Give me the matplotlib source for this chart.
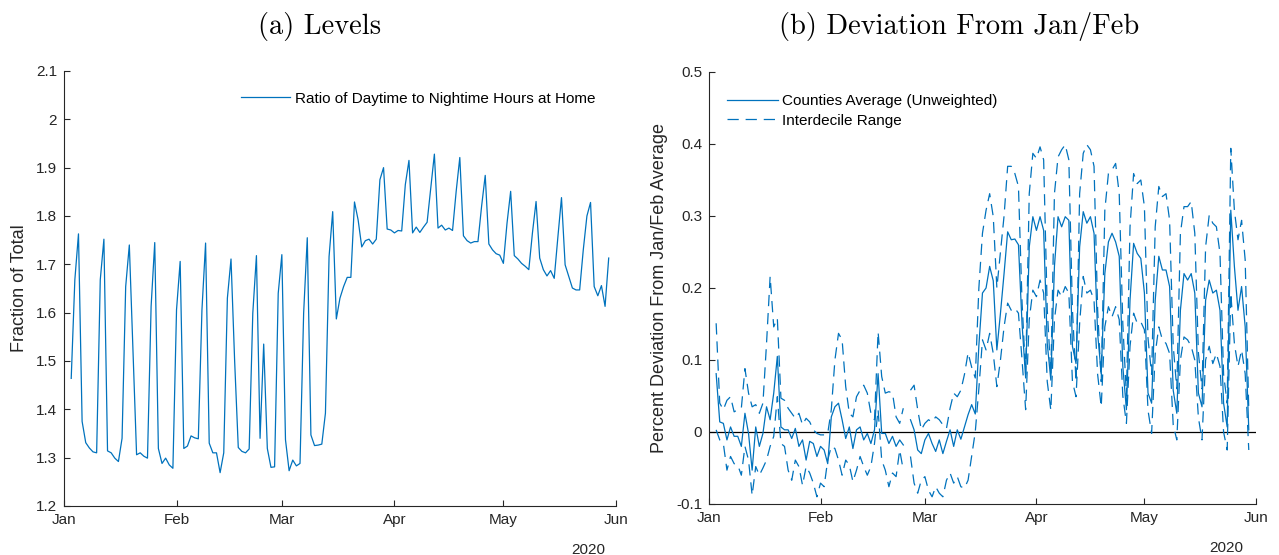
import numpy as np
import pandas as pd
import matplotlib.pyplot as plt
import matplotlib.dates as mdates

plt.rcParams['font.family'] = ['Liberation Sans', 'DejaVu Sans']

blue = '#0072BD'
axcol = '#262626'

ratio = [1.464, 1.668, 1.763, 1.375, 1.331, 1.320, 1.312, 1.310, 1.668, 1.752,
         1.314, 1.310, 1.299, 1.292, 1.340, 1.654, 1.740, 1.520, 1.306, 1.310,
         1.303, 1.299, 1.613, 1.745, 1.319, 1.288, 1.299, 1.285, 1.278, 1.606,
         1.706, 1.319, 1.324, 1.345, 1.341, 1.339, 1.606, 1.744, 1.330, 1.310,
         1.310, 1.269, 1.310, 1.630, 1.711, 1.500, 1.321, 1.313, 1.310, 1.318,
         1.599, 1.718, 1.340, 1.535, 1.319, 1.280, 1.281, 1.640, 1.720, 1.337,
         1.273, 1.295, 1.283, 1.288, 1.599, 1.755, 1.347, 1.325, 1.326, 1.328,
         1.392, 1.716, 1.809, 1.587, 1.630, 1.654, 1.673, 1.673, 1.829, 1.792,
         1.736, 1.749, 1.752, 1.742, 1.752, 1.875, 1.900, 1.773, 1.771, 1.765,
         1.770, 1.769, 1.865, 1.915, 1.765, 1.777, 1.766, 1.777, 1.787, 1.858,
         1.928, 1.775, 1.781, 1.771, 1.775, 1.770, 1.851, 1.921, 1.759, 1.749,
         1.744, 1.747, 1.747, 1.820, 1.884, 1.742, 1.730, 1.722, 1.719, 1.702,
         1.785, 1.851, 1.718, 1.711, 1.702, 1.696, 1.689, 1.765, 1.830, 1.713,
         1.689, 1.676, 1.687, 1.671, 1.756, 1.838, 1.699, 1.675, 1.651, 1.647,
         1.647, 1.730, 1.800, 1.828, 1.654, 1.635, 1.656, 1.613, 1.713]

nan = np.nan
avg = [0.081, 0.014, 0.012, -0.011, 0.007, -0.006, -0.006, -0.020, 0.026, -0.002,
       -0.053, 0.007, -0.020, -0.002, 0.035, 0.017, 0.054, 0.105, 0.007, 0.003,
       0.003, -0.009, 0.005, -0.020, -0.011, -0.039, -0.013, -0.016, -0.034, -0.020,
       -0.025, -0.044, 0.021, 0.035, 0.040, 0.017, -0.009, 0.007, -0.023, 0.003,
       0.007, -0.011, -0.002, -0.016, 0.003, 0.081, -0.002, -0.002, -0.016, -0.006,
       -0.020, -0.011, -0.018, nan, 0.017, 0.003, -0.025, -0.030, -0.011, -0.002,
       -0.016, -0.027, -0.011, -0.030, -0.013, 0.003, -0.020, 0.003, -0.010, 0.007,
       0.024, 0.038, 0.025, 0.120, 0.193, 0.200, 0.230, 0.210, 0.114, 0.165,
       0.220, 0.278, 0.267, 0.268, 0.260, 0.150, 0.075, 0.257, 0.299, 0.280,
       0.299, 0.280, 0.123, 0.072, 0.230, 0.299, 0.285, 0.299, 0.294, 0.119,
       0.095, 0.257, 0.306, 0.290, 0.299, 0.276, 0.137, 0.081, 0.220, 0.264,
       0.276, 0.264, 0.244, 0.091, 0.031, 0.183, 0.262, 0.248, 0.241, 0.193,
       0.054, 0.040, 0.183, 0.244, 0.225, 0.225, 0.202, 0.058, 0.026, 0.169,
       0.220, 0.211, 0.220, 0.193, 0.054, 0.035, 0.183, 0.211, 0.193, 0.197,
       0.169, 0.040, 0.007, 0.308, 0.230, 0.169, 0.202, 0.146, 0.003]

p90 = [0.151, 0.040, 0.031, 0.044, 0.049, 0.028, 0.031, 0.033, 0.088, 0.054,
       0.035, 0.038, 0.026, 0.040, 0.123, 0.216, 0.146, 0.158, 0.047, 0.044,
       0.033, 0.026, 0.019, 0.026, 0.010, 0.019, 0.014, 0.003, -0.002, -0.004,
       -0.004, -0.002, 0.031, 0.100, 0.137, 0.128, 0.063, 0.026, 0.021, 0.049,
       0.058, 0.065, 0.054, 0.026, 0.017, 0.139, 0.077, 0.054, 0.056, 0.054,
       0.021, 0.012, 0.033, nan, 0.058, 0.065, 0.031, 0.003, 0.012, 0.017,
       0.014, 0.021, 0.017, 0.010, 0.005, 0.033, 0.054, 0.049, 0.058, 0.080,
       0.110, 0.090, 0.075, 0.200, 0.276, 0.308, 0.331, 0.299, 0.200, 0.250,
       0.300, 0.369, 0.369, 0.359, 0.341, 0.180, 0.080, 0.331, 0.387, 0.380,
       0.396, 0.378, 0.170, 0.080, 0.331, 0.382, 0.392, 0.399, 0.378, 0.170,
       0.070, 0.331, 0.387, 0.399, 0.392, 0.369, 0.170, 0.070, 0.308, 0.359,
       0.364, 0.373, 0.331, 0.150, 0.050, 0.285, 0.359, 0.345, 0.350, 0.313,
       0.130, 0.080, 0.285, 0.341, 0.327, 0.331, 0.294, 0.120, 0.060, 0.276,
       0.313, 0.313, 0.320, 0.276, 0.110, 0.060, 0.257, 0.301, 0.290, 0.285,
       0.248, 0.080, 0.040, 0.394, 0.308, 0.267, 0.294, 0.239, 0.030]

p10 = [0.003, -0.011, -0.016, -0.053, -0.034, -0.044, -0.046, -0.060, -0.020, -0.039,
       -0.088, -0.048, -0.060, -0.050, -0.039, -0.020, -0.006, 0.049, -0.016, -0.020,
       -0.053, -0.067, -0.039, -0.048, -0.074, -0.048, -0.057, -0.071, -0.090, -0.071,
       -0.076, -0.039, -0.020, -0.023, -0.039, -0.060, -0.039, -0.046, -0.069, -0.053,
       -0.034, -0.048, -0.060, -0.048, -0.016, 0.031, -0.039, -0.053, -0.076, -0.057,
       -0.062, -0.025, -0.053, nan, -0.034, -0.071, -0.085, -0.067, -0.062, -0.081,
       -0.090, -0.076, -0.085, -0.090, -0.067, -0.057, -0.071, -0.062, -0.076, -0.078,
       -0.067, -0.034, 0.000, 0.060, 0.128, 0.114, 0.137, 0.109, 0.063, 0.100,
       0.146, 0.179, 0.169, 0.172, 0.165, 0.100, 0.031, 0.156, 0.197, 0.188,
       0.211, 0.193, 0.070, 0.030, 0.156, 0.197, 0.188, 0.202, 0.193, 0.070,
       0.049, 0.151, 0.216, 0.193, 0.197, 0.183, 0.080, 0.035, 0.146, 0.174,
       0.160, 0.174, 0.156, 0.050, 0.012, 0.119, 0.165, 0.151, 0.153, 0.142,
       0.030, -0.002, 0.109, 0.146, 0.128, 0.123, 0.109, 0.010, -0.011, 0.100,
       0.132, 0.128, 0.119, 0.100, 0.020, -0.011, 0.100, 0.119, 0.095, 0.109,
       0.091, 0.000, -0.025, 0.193, 0.123, 0.091, 0.114, 0.081, -0.025]

# daily series starting Jan 3 2020
dates = pd.date_range('2020-01-03', periods=len(ratio))
months = pd.date_range('2020-01-01', '2020-06-01', freq='MS')


def style(ax, ylim, yticks, ylabels):
    for s in ['top', 'right']:
        ax.spines[s].set_visible(False)
    for s in ['left', 'bottom']:
        ax.spines[s].set_color(axcol)
        ax.spines[s].set_linewidth(0.8)
    ax.set_xlim(months[0], months[-1])
    ax.set_xticks(months)
    ax.xaxis.set_major_formatter(mdates.DateFormatter('%b'))
    ax.set_ylim(*ylim)
    ax.set_yticks(yticks)
    ax.set_yticklabels(ylabels)
    ax.tick_params(direction='in', length=4, width=0.8, colors=axcol,
                   labelsize=11, pad=5)


fig = plt.figure(figsize=(12.79, 5.55), dpi=100)

ax1 = fig.add_axes([0.050, 0.0883, 0.4316, 0.7838])
ax1.plot(dates, ratio, color=blue, lw=0.9,
         label='Ratio of Daytime to Nightime Hours at Home')
style(ax1, (1.2, 2.1), np.arange(1.2, 2.11, 0.1),
      ['1.2', '1.3', '1.4', '1.5', '1.6', '1.7', '1.8', '1.9', '2', '2.1'])
ax1.set_ylabel('Fraction of Total', fontsize=13, color=axcol, labelpad=6)
ax1.legend(loc='upper left', bbox_to_anchor=(0.2957, 0.984), frameon=False,
           fontsize=11, handlelength=3.2, handletextpad=0.33)
ax1.text(0.980, -0.085, '2020', transform=ax1.transAxes, ha='right', va='top',
         fontsize=11, color=axcol)

ax2 = fig.add_axes([0.5543, 0.0919, 0.4277, 0.7784])
ax2.axhline(0, color='black', lw=0.9)
ax2.plot(dates, avg, color=blue, lw=0.9, label='Counties Average (Unweighted)')
ax2.plot(dates, p90, color=blue, lw=0.9, dashes=(9, 5.5), label='Interdecile Range')
ax2.plot(dates, p10, color=blue, lw=0.9, dashes=(9, 5.5))
style(ax2, (-0.1, 0.5), np.arange(-0.1, 0.51, 0.1),
      ['-0.1', '0', '0.1', '0.2', '0.3', '0.4', '0.5'])
ax2.set_ylabel('Percent Deviation From Jan/Feb Average', fontsize=13,
               color=axcol, labelpad=6)
ax2.legend(loc='upper left', bbox_to_anchor=(0.0078, 0.981), frameon=False,
           fontsize=11, handlelength=3.33, handletextpad=0.26, labelspacing=0.38)
ax2.text(0.976, -0.085, '2020', transform=ax2.transAxes, ha='right', va='top',
         fontsize=11, color=axcol)

fig.text(0.25, 0.952, '(a) Levels', ha='center', va='center',
         fontsize=20.5, family='cmr10')
fig.text(0.75, 0.952, '(b) Deviation From Jan/Feb', ha='center', va='center',
         fontsize=20.5, family='cmr10')

fig.savefig('out.png', dpi=100, facecolor='white')
